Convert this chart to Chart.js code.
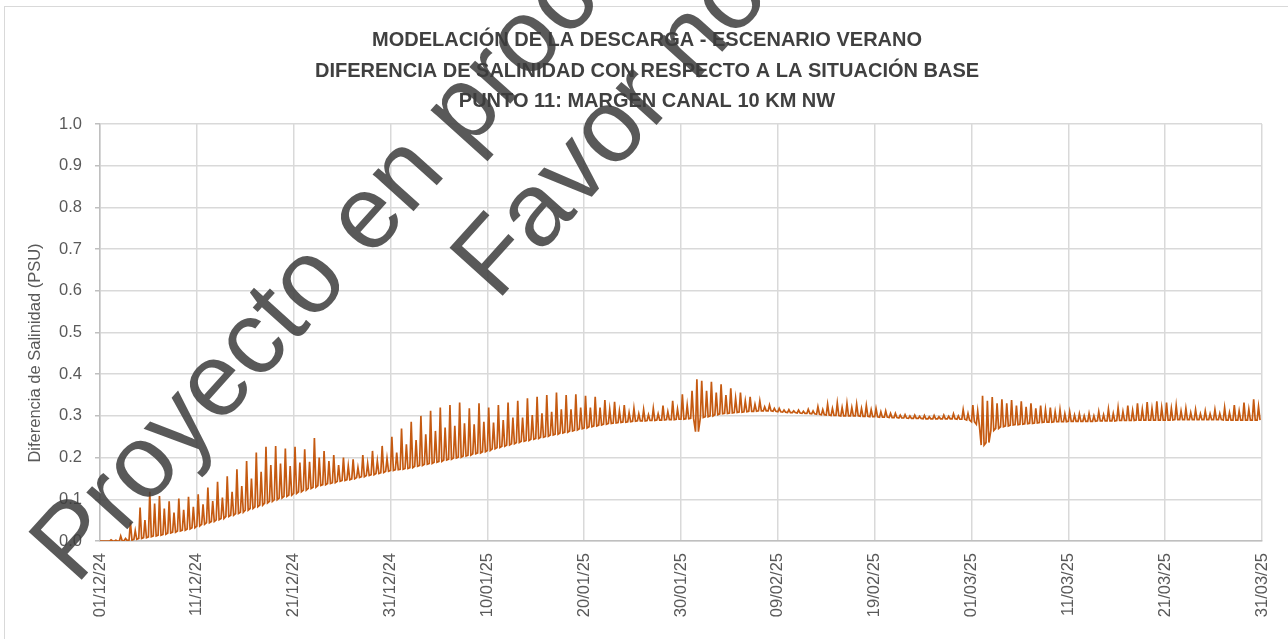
<!DOCTYPE html>
<html>
<head>
<meta charset="utf-8">
<script src="https://cdn.jsdelivr.net/npm/chart.js@4.4.1/dist/chart.umd.min.js"></script>
<style>
  html, body { margin: 0; padding: 0; background: #ffffff; }
  #wrap { width: 1288px; height: 639px; }
</style>
</head>
<body>
<div id="wrap"><canvas id="c" width="1288" height="639"></canvas></div>
<script>
// Tick labels along the time axis (every 10 days, day 0 = 01/12/24)
const tickLabels = ['01/12/24','11/12/24','21/12/24','31/12/24','10/01/25','20/01/25','30/01/25',
                    '09/02/25','19/02/25','01/03/25','11/03/25','21/03/25','31/03/25'];

// Salinity difference (PSU): one high and one low per tidal half-day cycle
const decHigh = [0.000,0.000, 0.003,0.002, 0.012,0.006, 0.045,0.025, 0.080,0.050, 0.118,0.090,
  0.108,0.078, 0.095,0.068, 0.102,0.075, 0.106,0.082, 0.112,0.088, 0.128,0.096, 0.142,0.104,
  0.155,0.118, 0.172,0.132, 0.192,0.150, 0.212,0.166, 0.226,0.182, 0.228,0.186, 0.222,0.180,
  0.226,0.188, 0.220,0.190, 0.247,0.200, 0.216,0.192, 0.206,0.182, 0.200,0.180, 0.196,0.176,
  0.206,0.186, 0.216,0.192, 0.228,0.198, 0.250,0.212];
const decLow = [0.000,0.000, 0.000,0.000, 0.000,0.001, 0.002,0.004, 0.006,0.008, 0.010,0.012,
  0.014,0.016, 0.019,0.021, 0.024,0.026, 0.029,0.032, 0.036,0.040, 0.044,0.047, 0.051,0.054,
  0.059,0.062, 0.066,0.069, 0.074,0.078, 0.082,0.086, 0.091,0.095, 0.099,0.103, 0.107,0.110,
  0.114,0.118, 0.122,0.126, 0.129,0.133, 0.135,0.138, 0.140,0.143, 0.145,0.147, 0.149,0.152,
  0.154,0.157, 0.159,0.162, 0.164,0.167, 0.169,0.171];

const janHigh = [0.270,0.232, 0.286,0.242, 0.300,0.256, 0.312,0.264, 0.320,0.272, 0.326,0.276,
  0.332,0.282, 0.318,0.280, 0.330,0.286, 0.320,0.284, 0.326,0.290, 0.332,0.296, 0.336,0.296,
  0.342,0.302, 0.346,0.306, 0.350,0.310, 0.356,0.316, 0.350,0.316, 0.352,0.320, 0.348,0.320,
  0.346,0.320, 0.338,0.316, 0.334,0.312, 0.326,0.308, 0.318,0.305, 0.315,0.303, 0.318,0.305,
  0.325,0.310, 0.336,0.316, 0.352,0.326, 0.360,0.388];
const janLow = [0.172,0.174, 0.176,0.179, 0.181,0.184, 0.186,0.189, 0.191,0.194, 0.196,0.199,
  0.201,0.204, 0.206,0.209, 0.211,0.214, 0.217,0.221, 0.224,0.227, 0.230,0.233, 0.236,0.239,
  0.241,0.244, 0.246,0.249, 0.251,0.254, 0.256,0.259, 0.261,0.264, 0.266,0.269, 0.271,0.274,
  0.276,0.278, 0.280,0.282, 0.283,0.284, 0.285,0.286, 0.287,0.288, 0.288,0.289, 0.289,0.290,
  0.290,0.291, 0.291,0.292, 0.292,0.293, 0.294,0.262];

const febHigh = [0.384,0.360, 0.382,0.356, 0.376,0.350, 0.366,0.342, 0.356,0.336, 0.346,0.328,
  0.336,0.322, 0.326,0.318, 0.318,0.314, 0.315,0.312, 0.314,0.311, 0.316,0.312, 0.322,0.315,
  0.328,0.318, 0.331,0.320, 0.330,0.320, 0.328,0.318, 0.325,0.315, 0.318,0.310, 0.312,0.306,
  0.306,0.302, 0.303,0.300, 0.302,0.299, 0.301,0.298, 0.301,0.298, 0.302,0.299, 0.305,0.300,
  0.315,0.306];
const febLow = [0.296,0.298, 0.300,0.303, 0.305,0.306, 0.307,0.308, 0.309,0.310, 0.311,0.311,
  0.312,0.312, 0.312,0.311, 0.310,0.309, 0.308,0.308, 0.307,0.306, 0.306,0.305, 0.304,0.303,
  0.302,0.301, 0.301,0.300, 0.300,0.300, 0.300,0.299, 0.299,0.298, 0.298,0.297, 0.297,0.296,
  0.296,0.295, 0.295,0.294, 0.294,0.294, 0.293,0.293, 0.293,0.293, 0.293,0.293, 0.293,0.292,
  0.292,0.290];

const marHigh = [0.326,0.312, 0.348,0.336, 0.345,0.330, 0.340,0.330, 0.338,0.325, 0.335,0.322,
  0.330,0.318, 0.325,0.315, 0.320,0.310, 0.315,0.305, 0.310,0.302, 0.305,0.300, 0.306,0.300,
  0.310,0.303, 0.316,0.306, 0.320,0.310, 0.325,0.313, 0.330,0.316, 0.333,0.318, 0.335,0.320,
  0.332,0.318, 0.325,0.312, 0.318,0.308, 0.315,0.305, 0.312,0.305, 0.315,0.306, 0.320,0.308,
  0.326,0.312, 0.332,0.316, 0.340,0.322];
const marLow = [0.286,0.280, 0.230,0.236, 0.265,0.270, 0.274,0.276, 0.278,0.279, 0.280,0.281,
  0.282,0.283, 0.284,0.285, 0.285,0.286, 0.286,0.286, 0.287,0.287, 0.287,0.287, 0.287,0.287,
  0.288,0.288, 0.288,0.288, 0.289,0.289, 0.289,0.289, 0.290,0.290, 0.290,0.290, 0.290,0.290,
  0.290,0.290, 0.291,0.291, 0.291,0.291, 0.291,0.291, 0.291,0.291, 0.291,0.291, 0.290,0.290,
  0.290,0.290, 0.290,0.290, 0.290,0.290];

const cycleDays = 0.5;      // semi-diurnal cycle length in days
const riseDays = 0.14;      // time from low to high within a cycle
const fallDays = 0.30;      // time from low back to low within a cycle

const highs = [...decHigh, ...janHigh, ...febHigh, ...marHigh];
const lows  = [...decLow,  ...janLow,  ...febLow,  ...marLow];

const series = [];
for (let k = 0; k < highs.length; k++) {
  const t = k * cycleDays;
  series.push({ x: t, y: lows[k] });
  series.push({ x: t + riseDays, y: highs[k] });
  series.push({ x: t + fallDays, y: lows[k] });
}

const titleLines = [
  'MODELACIÓN DE LA DESCARGA - ESCENARIO VERANO',
  'DIFERENCIA DE SALINIDAD CON RESPECTO A LA SITUACIÓN BASE',
  'PUNTO 11: MARGEN CANAL 10 KM NW'
];
const yAxisTitle = 'Diferencia de Salinidad (PSU)';
const stampLines = ['Proyecto en proceso', 'Favor no'];

const frame = {
  id: 'frame',
  beforeDraw(chart) {
    const ctx = chart.ctx;
    ctx.save();
    ctx.fillStyle = '#ffffff';
    ctx.fillRect(0, 0, chart.width, chart.height);
    ctx.strokeStyle = '#d9d9d9';
    ctx.lineWidth = 1;
    ctx.strokeRect(4.5, 6.5, chart.width + 20, chart.height + 20);
    ctx.restore();
  }
};

const header = {
  id: 'header',
  afterDraw(chart) {
    const ctx = chart.ctx;
    ctx.save();
    ctx.font = 'bold 20px "Liberation Sans", Arial, sans-serif';
    ctx.fillStyle = '#404040';
    ctx.textAlign = 'center';
    ctx.textBaseline = 'middle';
    const ys = [40, 71, 101];
    titleLines.forEach((s, i) => ctx.fillText(s, 647, ys[i]));
    // vertical axis title
    ctx.font = '16.5px "Liberation Sans", Arial, sans-serif';
    ctx.fillStyle = '#595959';
    ctx.translate(35, 353);
    ctx.rotate(-Math.PI / 2);
    ctx.fillText(yAxisTitle, 0, 0);
    ctx.restore();
  }
};

const stamp = {
  id: 'stamp',
  afterDraw(chart) {
    const ctx = chart.ctx;
    ctx.save();
    ctx.font = '104px "Liberation Sans", Arial, sans-serif';
    ctx.fillStyle = 'rgba(60,60,60,0.85)';
    ctx.textBaseline = 'alphabetic';
    const ang = -48 * Math.PI / 180;
    ctx.save();
    ctx.translate(76, 586);
    ctx.rotate(ang);
    ctx.fillText(stampLines[0], 0, 0);
    ctx.restore();
    ctx.save();
    ctx.translate(497, 302);
    ctx.rotate(ang);
    ctx.fillText(stampLines[1], 0, 0);
    ctx.restore();
    ctx.restore();
  }
};

new Chart(document.getElementById('c'), {
  type: 'line',
  data: {
    datasets: [{
      data: series,
      borderColor: '#c55a11',
      borderWidth: 1.7,
      pointRadius: 0,
      tension: 0,
      fill: false
    }]
  },
  options: {
    responsive: false,
    animation: false,
    devicePixelRatio: 1,
    layout: { padding: { top: 124, right: 26, left: 0, bottom: 0 } },
    plugins: { legend: { display: false }, tooltip: { enabled: false }, title: { display: false } },
    scales: {
      x: {
        type: 'linear',
        min: 0, max: 120,
        afterFit(s) { s.height = 98; s.paddingLeft = 0; s.paddingRight = 0; },
        ticks: {
          stepSize: 10,
          autoSkip: false,
          maxRotation: 90, minRotation: 90,
          padding: 12,
          color: '#595959',
          font: { family: '"Liberation Sans", Arial, sans-serif', size: 16.5 },
          callback: (v) => tickLabels[Math.round(v / 10)]
        },
        grid: { color: '#d9d9d9', lineWidth: 1.5, drawTicks: false },
        border: { color: '#bfbfbf', width: 1.5 }
      },
      y: {
        min: 0, max: 1,
        afterFit(s) { s.width = 100; },
        ticks: {
          stepSize: 0.1,
          padding: 13,
          color: '#595959',
          font: { family: '"Liberation Sans", Arial, sans-serif', size: 16.5 },
          callback: (v) => Number(v).toFixed(1)
        },
        grid: { color: '#d9d9d9', lineWidth: 1.5, tickLength: 5, tickColor: '#bfbfbf' },
        border: { color: '#bfbfbf', width: 1.5 }
      }
    }
  },
  plugins: [frame, header, stamp]
});
</script>
</body>
</html>
